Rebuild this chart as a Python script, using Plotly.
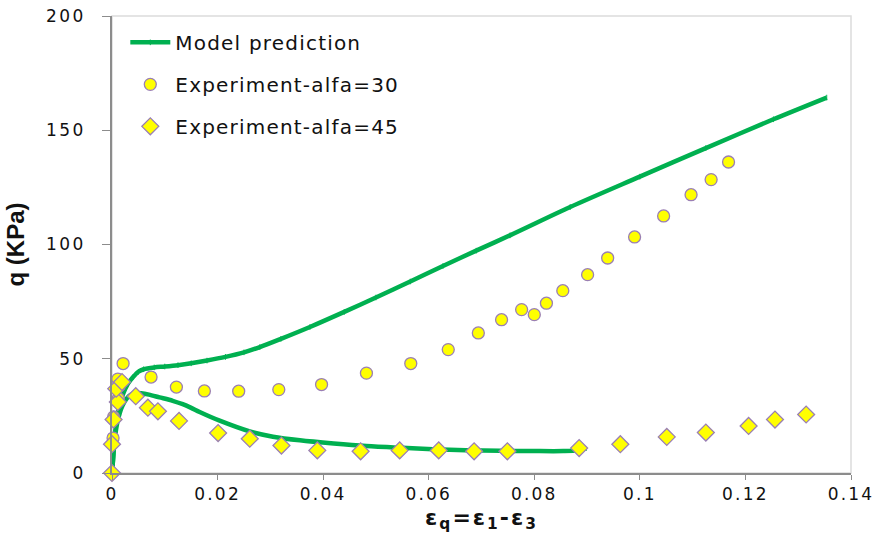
import plotly.graph_objects as go

# Model prediction: hardening branch (alfa=30)
model_up_x = [0, 0.0002, 0.0004, 0.0007, 0.001, 0.0015, 0.002, 0.003, 0.004, 0.005,
              0.006, 0.008, 0.010, 0.0125, 0.015, 0.018, 0.0215, 0.025, 0.028, 0.032,
              0.0375, 0.044, 0.050, 0.0565, 0.0627, 0.069, 0.0754, 0.0868, 0.100,
              0.1125, 0.1253, 0.1354]
model_up_y = [0, 6, 13, 20, 25, 30, 34, 39, 42, 44.3,
              45.4, 46.2, 46.6, 47.2, 48.0, 49.2, 50.8, 52.8, 55.1, 58.7,
              63.9, 70.5, 76.8, 83.8, 90.6, 97.3, 104.0, 116.4, 129.7,
              142.2, 154.8, 164.3]

# Model prediction: softening branch (alfa=45)
model_lo_x = [0, 0.0002, 0.0004, 0.0007, 0.001, 0.0015, 0.002, 0.0027, 0.0035, 0.0046,
              0.0055, 0.007, 0.009, 0.0115, 0.0134, 0.015, 0.0166, 0.0204, 0.0261,
              0.0305, 0.0356, 0.042, 0.0482, 0.055, 0.0608, 0.067, 0.0735, 0.080,
              0.0855, 0.0882, 0.0899]
model_lo_y = [0, 6, 12, 18, 22, 26.5, 29.5, 32.3, 34.2, 35.0,
              34.9, 34.3, 33.1, 31.6, 30.1, 28.5, 26.7, 22.9, 18.2,
              15.9, 14.3, 12.9, 11.8, 11.0, 10.4, 10.0, 9.7, 9.6,
              9.6, 9.9, 10.8]

# Experiment, alfa = 30
exp30_x = [0.0002, 0.0003, 0.0012, 0.0011, 0.0021, 0.0074, 0.0122, 0.0175, 0.024,
           0.0316, 0.0397, 0.0482, 0.0566, 0.0637, 0.0694, 0.0738, 0.0776, 0.080,
           0.0823, 0.0854, 0.0901, 0.0939, 0.099, 0.1045, 0.1097, 0.1135, 0.1168]
exp30_y = [15.3, 24.5, 32.6, 41.1, 47.9, 42.0, 37.6, 35.9, 35.8,
           36.5, 38.7, 43.7, 47.9, 54.0, 61.3, 67.1, 71.5, 69.3,
           74.3, 79.8, 86.8, 94.1, 103.3, 112.5, 121.8, 128.4, 136.1]

# Experiment, alfa = 45
exp45_x = [0.0, 0.0, 0.0003, 0.0011, 0.0008, 0.0019, 0.0045, 0.0068, 0.0087, 0.0127,
           0.0201, 0.0261, 0.0321, 0.0389, 0.0471, 0.0545, 0.0619, 0.0686, 0.0749,
           0.0885, 0.0963, 0.1051, 0.1125, 0.1206, 0.1256, 0.1315]
exp45_y = [0, 12.6, 23.4, 31.1, 36.9, 39.8, 33.6, 28.6, 27.0, 22.8,
           17.5, 15.0, 12.0, 9.9, 9.5, 9.9, 9.9, 9.5, 9.5,
           10.9, 12.6, 15.8, 17.7, 20.6, 23.4, 25.6]

x_ticks = [0, 0.02, 0.04, 0.06, 0.08, 0.1, 0.12, 0.14]
x_tick_labels = ["0", "0.02", "0.04", "0.06", "0.08", "0.1", "0.12", "0.14"]
y_ticks = [0, 50, 100, 150, 200]
y_tick_labels = ["0", "50", "100", "150", "200"]

series_names = ["Model prediction", "Experiment-alfa=30", "Experiment-alfa=45"]
x_title = "<b>ε<sub>q</sub>=ε<sub>1</sub>-ε<sub>3</sub></b>"
y_title = "<b>q (KPa)</b>"

GREEN = "#00B050"
YELLOW = "#FFFF00"
EDGE = "#9a7fb4"
FONT = "DejaVu Sans, Verdana, sans-serif"
TITLE_FONT = "Liberation Sans, Arial, sans-serif"


def wide(text, spacing):
    """Wrap a label so its glyphs are spread out a little."""
    return f"<span style='letter-spacing:{spacing}px'>{text}</span>"


fig = go.Figure()

fig.add_trace(go.Scatter(
    x=model_up_x, y=model_up_y, name=wide(series_names[0], 1.2),
    mode="lines+markers", legendgroup="m",
    line=dict(color=GREEN, width=4.5, shape="spline", smoothing=0.8),
    marker=dict(symbol="line-ns-open", size=4, color=GREEN, line=dict(width=1, color=GREEN)),
    cliponaxis=False,
))
fig.add_trace(go.Scatter(
    x=model_lo_x, y=model_lo_y, name=wide(series_names[0], 1.2),
    mode="lines", legendgroup="m", showlegend=False,
    line=dict(color=GREEN, width=4.5, shape="spline", smoothing=0.8),
    cliponaxis=False,
))
fig.add_trace(go.Scatter(
    x=exp30_x, y=exp30_y, name=wide(series_names[1], 1.2),
    mode="markers", legendgroup="a30",
    marker=dict(symbol="circle", size=12, color=YELLOW, line=dict(color=EDGE, width=1.3)),
    cliponaxis=False,
))
fig.add_trace(go.Scatter(
    x=exp45_x, y=exp45_y, name=wide(series_names[2], 1.2),
    mode="markers", legendgroup="a45",
    marker=dict(symbol="diamond", size=13, color=YELLOW, line=dict(color=EDGE, width=1.3)),
    cliponaxis=False,
))

# light frame on top/right of the plotting area
fig.add_shape(type="rect", xref="paper", yref="paper", x0=0, y0=0, x1=1, y1=1,
              line=dict(color="#dcdcdc", width=1.5), layer="below")

fig.update_layout(
    width=880, height=540,
    margin=dict(l=112, r=29, t=16, b=67),
    paper_bgcolor="white", plot_bgcolor="white",
    font=dict(family=FONT, size=18, color="#111111"),
    showlegend=True,
    legend=dict(
        x=0.018, y=0.985, xanchor="left", yanchor="top",
        bgcolor="rgba(0,0,0,0)", font=dict(family=FONT, size=20, color="#111111"),
        itemwidth=40, tracegroupgap=13, traceorder="grouped",
    ),
    xaxis=dict(
        range=[0, 0.14], tickvals=x_ticks,
        ticktext=[wide(t, 2.2) for t in x_tick_labels],
        showgrid=False, zeroline=False, automargin=False,
        showline=True, linecolor="#8c8c8c", linewidth=1.5,
        ticks="outside", ticklen=5, tickcolor="#8c8c8c", tickwidth=1.2,
        tickfont=dict(family=FONT, size=17),
        title=dict(text=wide(x_title, 2), font=dict(family=FONT, size=22), standoff=6),
    ),
    yaxis=dict(
        range=[0, 200], tickvals=y_ticks,
        ticktext=[wide(t, 2.5) for t in y_tick_labels],
        showgrid=False, zeroline=False, automargin=False,
        showline=True, linecolor="#8c8c8c", linewidth=1.5,
        ticks="outside", ticklen=8, tickcolor="#8c8c8c", tickwidth=1.2,
        tickfont=dict(family=FONT, size=17), ticklabelstandoff=13,
        title=dict(text=y_title, font=dict(family=TITLE_FONT, size=24), standoff=14),
    ),
)

fig.write_html("out.html")
